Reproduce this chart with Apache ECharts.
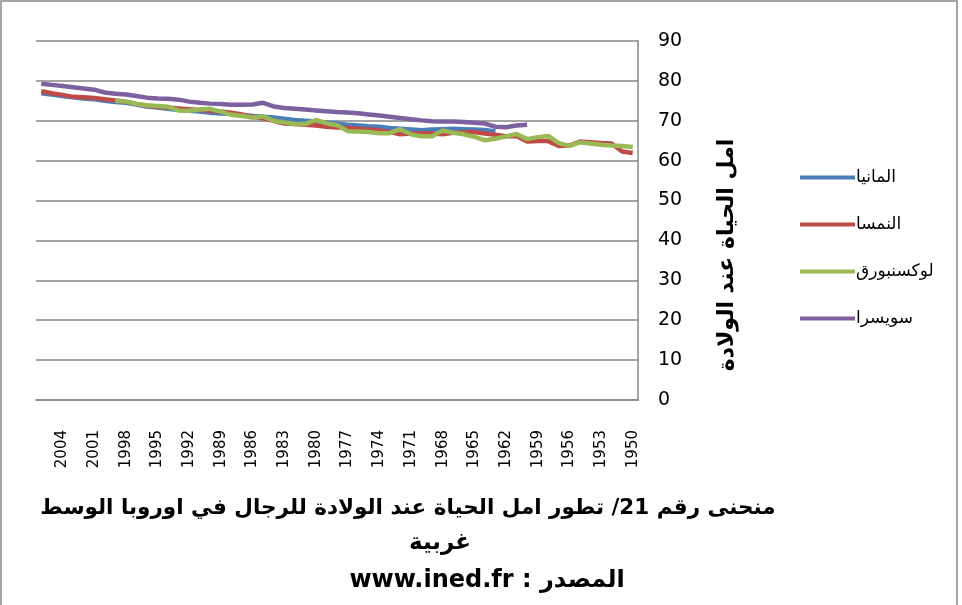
<!DOCTYPE html>
<html>
<head>
<meta charset="utf-8">
<script src="https://cdn.jsdelivr.net/npm/echarts@6/dist/echarts.min.js"></script>
<style>
  html, body { margin: 0; padding: 0; background: #fff; }
  #chart { width: 962px; height: 605px; }
</style>
</head>
<body>
<div id="chart"></div>
<script>
// years run from 2006 (left) down to 1950 (right)
var years = [];
for (var y = 2006; y >= 1950; y--) years.push(String(y));

var seriesNames = ['المانيا', 'النمسا', 'لوكسنبورق', 'سويسرا'];

// 2006 -> 1963
var germany = [76.9, 76.6, 76.2, 75.9, 75.6, 75.4, 75.0, 74.7, 74.5, 74.1,
  73.6, 73.3, 73.0, 72.7, 72.5, 72.3, 72.0, 71.8, 71.7, 71.4,
  71.2, 71.0, 70.8, 70.5, 70.2, 70.0, 69.8, 69.6, 69.3, 69.0,
  68.8, 68.6, 68.5, 68.2, 68.0, 67.8, 67.6, 67.8, 67.9, 68.0,
  67.9, 67.8, 67.7, 67.3];

// 2006 -> 1950
var austria = [77.4, 76.9, 76.5, 76.0, 75.9, 75.7, 75.4, 75.1, 74.8, 74.2,
  73.8, 73.5, 73.3, 73.1, 72.9, 72.7, 72.5, 72.3, 72.0, 71.6,
  71.0, 70.6, 70.0, 69.3, 69.2, 69.0, 68.8, 68.5, 68.3, 68.2,
  68.0, 67.8, 67.6, 67.2, 66.6, 66.8, 66.9, 66.8, 66.6, 67.0,
  67.1, 67.2, 66.8, 66.5, 66.1, 66.2, 64.8, 64.9, 64.9, 63.7,
  63.8, 64.8, 64.6, 64.4, 64.3, 62.3, 61.9];

// 1999 -> 1950
var luxembourg = [75.0, 74.8, 74.2, 73.9, 73.7, 73.5, 72.6, 72.5, 72.8, 73.0,
  72.3, 71.5, 71.2, 70.8, 71.1, 70.0, 69.6, 69.2, 69.2, 70.2,
  69.4, 68.9, 67.4, 67.3, 67.2, 66.9, 66.9, 67.9, 66.6, 66.1,
  66.1, 67.6, 67.0, 66.6, 66.0, 65.1, 65.5, 66.1, 66.7, 65.4,
  65.9, 66.2, 64.4, 63.7, 64.6, 64.3, 64.0, 63.8, 63.7, 63.4];

// 2006 -> 1960
var switzerland = [79.3, 79.0, 78.7, 78.4, 78.1, 77.8, 77.1, 76.8, 76.6, 76.2,
  75.8, 75.6, 75.5, 75.3, 74.8, 74.5, 74.3, 74.2, 74.0, 74.0,
  74.1, 74.5, 73.6, 73.2, 73.0, 72.8, 72.6, 72.4, 72.2, 72.1,
  71.9, 71.6, 71.3, 71.0, 70.7, 70.4, 70.1, 69.9, 69.8, 69.8,
  69.7, 69.5, 69.3, 68.5, 68.4, 68.8, 69.0];

var colors = ['#4a7ebb', '#be4b48', '#98b954', '#7d60a0'];

// pad a series onto the full year list
function align(values, firstYear) {
  var out = [];
  for (var i = 0; i < years.length; i++) {
    var k = (2006 - Number(years[i])) - (2006 - firstYear);
    out.push(k >= 0 && k < values.length ? values[k] : null);
  }
  return out;
}

var titleLine1 = 'منحنى رقم 21/ تطور امل الحياة عند الولادة للرجال في اوروبا الوسط';
var titleLine2 = 'غربية';
var titleLine3 = 'www.ined.fr : المصدر';
var yAxisName = 'امل الحياة عند الولادة';

var chartDom = document.getElementById('chart');
var myChart = echarts.init(chartDom);
var font = 'DejaVu Sans';

var option = {
  animation: false,
  color: colors,
  textStyle: { fontFamily: font },
  grid: { left: 36, right: 324, top: 41, bottom: 205 },
  legend: {
    orient: 'vertical',
    left: 795,
    top: 164,
    itemWidth: 55,
    itemHeight: 4,
    itemGap: 30,
    icon: 'rect',
    textStyle: { fontSize: 17, color: '#000', fontFamily: font, padding: [0, 0, 0, -4] },
    data: seriesNames
  },
  xAxis: {
    type: 'category',
    data: years,
    boundaryGap: true,
    axisLine: { lineStyle: { color: '#868686', width: 1.5 } },
    axisTick: { show: false },
    axisLabel: {
      rotate: 90,
      margin: 30,
      fontSize: 15,
      color: '#000',
      interval: function (index) { return index % 3 === 2; }
    }
  },
  yAxis: {
    type: 'value',
    position: 'right',
    min: 0,
    max: 90,
    interval: 10,
    axisLine: { show: true, lineStyle: { color: '#868686', width: 1.5 } },
    axisTick: { show: false },
    axisLabel: { margin: 20, fontSize: 19, color: '#000' },
    splitLine: { lineStyle: { color: '#868686', width: 1.5 } }
  },
  series: [
    { name: seriesNames[0], type: 'line', data: align(germany, 2006) },
    { name: seriesNames[1], type: 'line', data: align(austria, 2006) },
    { name: seriesNames[2], type: 'line', data: align(luxembourg, 1999) },
    { name: seriesNames[3], type: 'line', data: align(switzerland, 2006) }
  ].map(function (s) {
    s.showSymbol = false;
    s.lineStyle = { width: 4.5 };
    return s;
  }),
  graphic: [
    {
      type: 'rect',
      shape: { x: 1, y: 1, width: 956, height: 640 },
      style: { fill: null, stroke: '#868686', lineWidth: 1.5 },
      silent: true
    },
    {
      type: 'text',
      x: 727, y: 255,
      rotation: Math.PI / 2,
      style: {
        text: yAxisName, fontSize: 22, fontWeight: 'bold', fontFamily: font,
        fill: '#000', align: 'center', verticalAlign: 'middle'
      }
    },
    {
      type: 'text', x: 408, y: 508,
      style: { text: titleLine1, fontSize: 21.5, fontWeight: 'bold', fontFamily: font, fill: '#000', align: 'center', verticalAlign: 'middle' }
    },
    {
      type: 'text', x: 440, y: 543,
      style: { text: titleLine2, fontSize: 23, fontWeight: 'bold', fontFamily: font, fill: '#000', align: 'center', verticalAlign: 'middle' }
    },
    {
      type: 'text', x: 487, y: 581,
      style: { text: titleLine3, fontSize: 24, fontWeight: 'bold', fontFamily: font, fill: '#000', align: 'center', verticalAlign: 'middle' }
    }
  ]
};

option && myChart.setOption(option);
</script>
</body>
</html>
